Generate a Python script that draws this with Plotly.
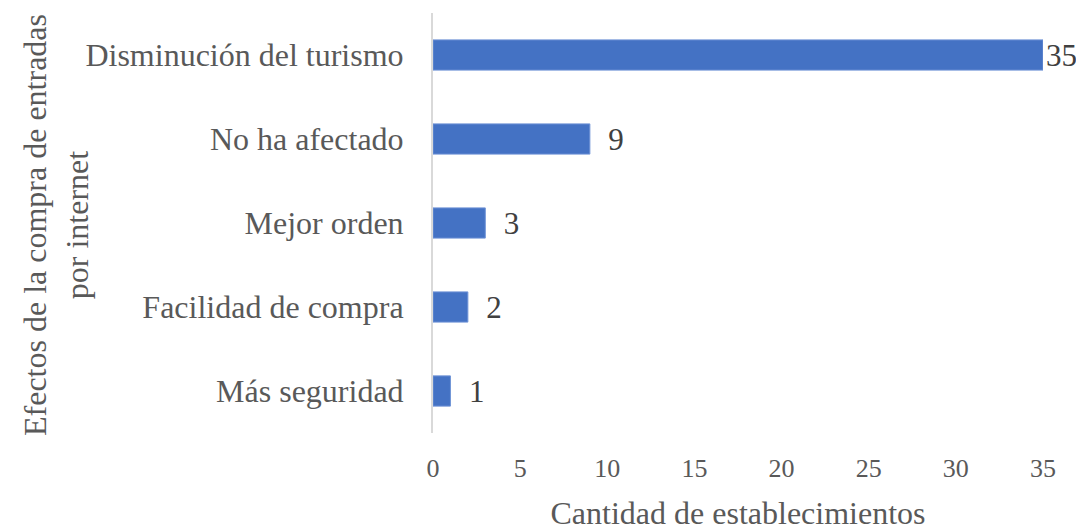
import plotly.graph_objects as go

categories = ["Más seguridad", "Facilidad de compra", "Mejor orden", "No ha afectado", "Disminución del turismo"]
values = [1, 2, 3, 9, 35]
x_ticks = [0, 5, 10, 15, 20, 25, 30, 35]

FONT = "Liberation Serif, Times New Roman, serif"

# page has an 8px body margin, so the figure is sized/offset to compensate
W, H = 1076, 523
L, R, T, B = 425, 41, 5, 98
plot_w = W - L - R
plot_h = H - T - B

vmax = max(values)
labels = [("" if v == vmax else "\u00a0\u00a0") + str(v) for v in values]

fig = go.Figure(go.Bar(
    x=values, y=categories, orientation="h",
    marker=dict(color="#4472C4", line=dict(color="#6f93d6", width=1)),
    text=labels, textposition="outside", constraintext="none",
    textfont=dict(family=FONT, size=31, color="#404040"),
    cliponaxis=False,
))

fig.update_layout(
    width=W, height=H,
    margin=dict(l=L, r=R, t=T, b=B),
    paper_bgcolor="white", plot_bgcolor="white",
    showlegend=False, bargap=0.64,
    font=dict(family=FONT, size=32, color="#595959"),
    xaxis=dict(range=[0, 35], tickvals=x_ticks, showgrid=False, zeroline=False,
               showline=False, ticks="outside", ticklen=12, tickcolor="rgba(0,0,0,0)",
               tickfont=dict(size=26, color="#595959"),
               title=dict(text="Cantidad de establecimientos", standoff=21,
                          font=dict(size=32, color="#595959"))),
    yaxis=dict(categoryorder="array", categoryarray=categories, range=[-0.5, 4.5],
               showgrid=False, zeroline=False, showline=True, linecolor="#d9d9d9", linewidth=2,
               ticks="", ticklabelstandoff=21, automargin=False,
               tickfont=dict(size=32, color="#595959")),
    annotations=[dict(text="Efectos de la compra de entradas<br>por internet", textangle=-90,
                      xref="paper", yref="paper", x=(48 - L) / plot_w, y=(T + plot_h - 217) / plot_h,
                      xanchor="center", yanchor="middle", showarrow=False,
                      font=dict(family=FONT, size=32, color="#595959"))],
)

fig.write_html("out.html")
